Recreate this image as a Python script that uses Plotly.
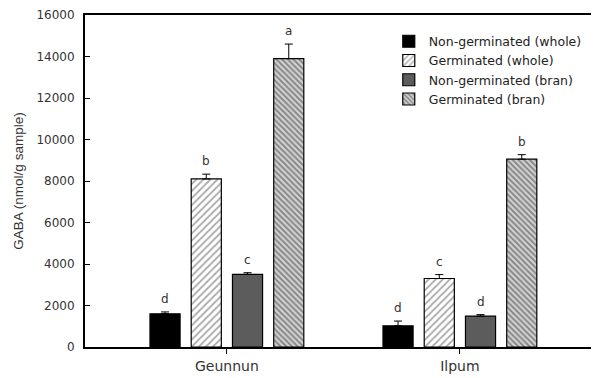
import plotly.graph_objects as go

categories = ["Geunnun", "Ilpum"]
series_names = ["Non-germinated (whole)", "Germinated (whole)",
                "Non-germinated (bran)", "Germinated (bran)"]
values = [
    [1600, 1020],
    [8100, 3300],
    [3500, 1490],
    [13900, 9050],
]
errors = [
    [90, 230],
    [230, 190],
    [80, 70],
    [700, 220],
]
letters = [
    ["d", "d"],
    ["b", "c"],
    ["c", "d"],
    ["a", "b"],
]
y_ticks = [0, 2000, 4000, 6000, 8000, 10000, 12000, 14000, 16000]

styles = [
    dict(color="#000000", pattern=None),
    dict(color="#ffffff", pattern=dict(shape="/", fgcolor="#555555", bgcolor="#ffffff", size=5, solidity=0.35)),
    dict(color="#5c5c5c", pattern=None),
    dict(color="#c8c8c8", pattern=dict(shape="\\", fgcolor="#333333", bgcolor="#d0d0d0", size=4, solidity=0.45)),
]

BARGAP = 0.292
BARGROUPGAP = 0.27
FONT = "DejaVu Sans, sans-serif"
TITLE_FONT = "Liberation Sans, Arial, sans-serif"

fig = go.Figure()
for i, name in enumerate(series_names):
    st = styles[i]
    marker = dict(color=st["color"], line=dict(color="#000000", width=1.2))
    if st["pattern"] is not None:
        marker["pattern"] = st["pattern"]
    fig.add_trace(go.Bar(
        name=name, x=categories, y=values[i],
        marker=marker,
        error_y=dict(type="data", array=errors[i], arrayminus=[0] * len(categories),
                     symmetric=False, color="#000000", thickness=1, width=4),
    ))

slot = (1 - BARGAP) / len(series_names)
annotations = []
for i in range(len(series_names)):
    off = (i - (len(series_names) - 1) / 2) * slot
    for j in range(len(categories)):
        annotations.append(dict(
            x=j + off, y=values[i][j] + errors[i][j], xref="x", yref="y",
            text=letters[i][j], showarrow=False, yanchor="bottom", yshift=4,
            font=dict(family=FONT, size=12, color="#333333"),
        ))

# page body has an 8px default margin, so the figure is sized to fit the 599x378 window
fig.update_layout(
    width=591, height=370,
    margin=dict(l=77, r=0, t=5, b=31),
    paper_bgcolor="white", plot_bgcolor="white",
    barmode="group", bargap=BARGAP, bargroupgap=BARGROUPGAP,
    font=dict(family=FONT, size=12, color="#333333"),
    annotations=annotations,
    legend=dict(x=0.591, y=0.965, xanchor="left", yanchor="top",
                bgcolor="rgba(0,0,0,0)", font=dict(family=FONT, size=12.5, color="#222222"),
                tracegroupgap=0, itemwidth=30),
    showlegend=True,
)
fig.update_xaxes(
    range=[-0.609, 1.597], showline=True, linecolor="#000000", linewidth=2,
    mirror=True, ticks="outside", ticklen=5, tickcolor="#000000", tickwidth=1,
    tickfont=dict(family=FONT, size=14, color="#333333"), showgrid=False, zeroline=False,
)
fig.update_yaxes(
    range=[0, 16000], tickvals=y_ticks, tickformat="d", showline=True,
    linecolor="#000000", linewidth=2, ticklabeloverflow="allow",
    ticks="inside", ticklen=5, tickcolor="#000000", tickwidth=1, ticklabelstandoff=6,
    tickfont=dict(family=FONT, size=12, color="#333333"), showgrid=False, zeroline=False,
    title=dict(text="GABA (nmol/g sample)", font=dict(family=TITLE_FONT, size=13.5, color="#333333"),
               standoff=10),
)

fig.write_html("out.html")
